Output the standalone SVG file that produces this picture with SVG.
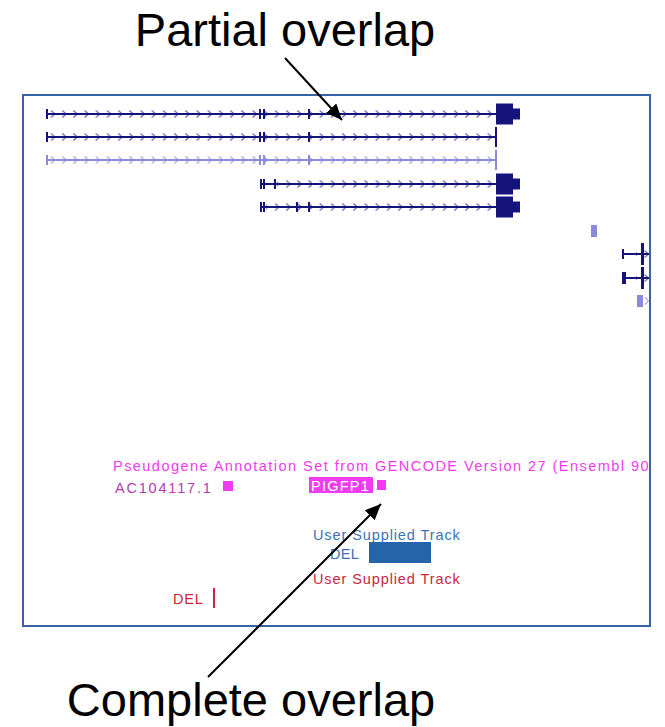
<svg xmlns="http://www.w3.org/2000/svg" width="665" height="727" viewBox="0 0 665 727">
  <style>
    .title { font-family: "Liberation Sans", Arial, sans-serif; font-size: 47px; fill: #000; }
    .lbl { font-family: "Liberation Sans", Arial, sans-serif; font-size: 14.5px; letter-spacing: 1.2px; }
    .dk { stroke: #14147a; fill: #14147a; }
    .lt { stroke: #8a8ad8; fill: #8a8ad8; }
    .ln { stroke-width: 2; fill: none; }
    .tick { stroke-width: 2; fill: none; }
    .blk { stroke: none; }
    .conn { stroke: #000; stroke-width: 2; fill: none; marker-end: url(#head); }
  </style>
  <defs>
    <!-- intron direction chevrons, one tile per 11.2 px -->
    <pattern id="chevDk" patternUnits="userSpaceOnUse" x="47" y="-5" width="11.2" height="10">
      <path d="M4,1.5 L8,5 L4,8.5" fill="none" stroke="#6a6ab8" stroke-width="1.2"/>
    </pattern>
    <pattern id="chevLt" patternUnits="userSpaceOnUse" x="47" y="-5" width="11.2" height="10">
      <path d="M4,1.5 L8,5 L4,8.5" fill="none" stroke="#a8a8e4" stroke-width="1.2"/>
    </pattern>
    <marker id="head" markerUnits="userSpaceOnUse" markerWidth="18" markerHeight="14" refX="16" refY="7" orient="auto">
      <path d="M0,0 L16,7 L0,14 Z" fill="#000"/>
    </marker>
    <clipPath id="frameClip">
      <rect x="23" y="95" width="627" height="531"/>
    </clipPath>
  </defs>

  <!-- browser frame -->
  <rect id="frame" x="23" y="95" width="627" height="531" fill="#fff" stroke="#3563a3" stroke-width="2"/>

  <!-- gene model tracks -->
  <g id="tx1" transform="translate(0,114)">
    <rect x="49" y="-5" width="446" height="10" fill="url(#chevDk)"/>
    <line class="dk ln" x1="47" y1="0" x2="496" y2="0"/>
    <path class="dk tick" d="M47,-5 V5 M260,-5 V5 M264,-5 V5 M309,-5 V5"/>
    <rect class="dk blk" x="496" y="-10.5" width="17" height="21"/>
    <rect class="dk blk" x="512" y="-5.5" width="8" height="11"/>
  </g>
  <g id="tx2" transform="translate(0,137)">
    <rect x="49" y="-5" width="446" height="10" fill="url(#chevDk)"/>
    <line class="dk ln" x1="47" y1="0" x2="496" y2="0"/>
    <path class="dk tick" d="M47,-5 V5 M260,-5 V5 M264,-5 V5 M309,-5 V5 M496,-10 V10"/>
  </g>
  <g id="tx3" transform="translate(0,160)">
    <rect x="49" y="-5" width="446" height="10" fill="url(#chevLt)"/>
    <line class="lt ln" x1="47" y1="0" x2="496" y2="0"/>
    <path class="lt tick" d="M47,-5 V5 M260,-5 V5 M264,-5 V5 M309,-5 V5 M496,-10 V10"/>
  </g>
  <g id="tx4" transform="translate(0,184)">
    <rect x="277" y="-5" width="218" height="10" fill="url(#chevDk)"/>
    <line class="dk ln" x1="261" y1="0" x2="496" y2="0"/>
    <path class="dk tick" d="M261,-5 V5 M264,-5 V5 M275,-5 V5"/>
    <rect class="dk blk" x="496" y="-10.5" width="17" height="21"/>
    <rect class="dk blk" x="512" y="-5.5" width="8" height="11"/>
  </g>
  <g id="tx5" transform="translate(0,207)">
    <rect x="266" y="-5" width="229" height="10" fill="url(#chevDk)"/>
    <line class="dk ln" x1="261" y1="0" x2="496" y2="0"/>
    <path class="dk tick" d="M261,-5 V5 M264,-5 V5 M297,-5 V5 M309,-5 V5"/>
    <rect class="dk blk" x="496" y="-10.5" width="17" height="21"/>
    <rect class="dk blk" x="512" y="-5.5" width="8" height="11"/>
  </g>

  <!-- partial models at the right edge -->
  <g id="edge1">
    <rect class="lt blk" x="591" y="225" width="6" height="12"/>
  </g>
  <g id="edge2" transform="translate(0,254)">
    <rect x="636" y="-5" width="13" height="10" fill="url(#chevDk)"/>
    <line class="dk ln" x1="622" y1="0" x2="649" y2="0"/>
    <path class="dk tick" d="M623,-5 V5"/>
    <rect class="dk blk" x="641" y="-11" width="3" height="22"/>
  </g>
  <g id="edge3" transform="translate(0,278)">
    <rect x="636" y="-5" width="13" height="10" fill="url(#chevDk)"/>
    <line class="dk ln" x1="622" y1="0" x2="649" y2="0"/>
    <rect class="dk blk" x="622" y="-6" width="4" height="12"/>
    <rect class="dk blk" x="641" y="-11" width="3" height="22"/>
  </g>
  <g id="edge4" transform="translate(0,301)">
    <rect class="lt blk" x="637" y="-6" width="6" height="12"/>
    <path d="M645,-3.5 L648.5,0 L645,3.5" fill="none" stroke="#a8a8e4" stroke-width="1.2"/>
  </g>

  <!-- pseudogene annotation track -->
  <g id="pseudoTrack" clip-path="url(#frameClip)">
    <text class="lbl" x="113" y="471" fill="#f03cf0" textLength="543" lengthAdjust="spacing">Pseudogene Annotation Set from GENCODE Version 27 (Ensembl 90)</text>
  </g>
  <g id="AC104117">
    <text class="lbl" x="115" y="493" fill="#b23cb4" textLength="97" lengthAdjust="spacing">AC104117.1</text>
    <rect x="223" y="481" width="10" height="10" fill="#f03cf0"/>
  </g>
  <g id="PIGFP1">
    <rect x="309" y="477" width="64" height="16" fill="#f03cf0"/>
    <text class="lbl" x="311" y="491" fill="#fff" textLength="59" lengthAdjust="spacing">PIGFP1</text>
    <rect x="377" y="480" width="9" height="10" fill="#f03cf0"/>
  </g>

  <!-- user supplied tracks -->
  <g id="userBlue">
    <text class="lbl" x="313" y="540" fill="#3c72b8" textLength="148" lengthAdjust="spacing">User Supplied Track</text>
    <text class="lbl" x="330" y="559" fill="#3c72b8" textLength="30" lengthAdjust="spacing">DEL</text>
    <rect x="369" y="542" width="62" height="21" fill="#2464a8"/>
  </g>
  <g id="userRed">
    <text class="lbl" x="313" y="584" fill="#c8283c" textLength="148" lengthAdjust="spacing">User Supplied Track</text>
    <text class="lbl" x="173" y="604" fill="#c8283c" textLength="31" lengthAdjust="spacing">DEL</text>
    <line x1="214" y1="588" x2="214" y2="608" stroke="#c8283c" stroke-width="2"/>
  </g>

  <!-- callouts -->
  <g id="partialLabel">
    <text class="title" x="285" y="46" text-anchor="middle">Partial overlap</text>
  </g>
  <g id="completeLabel">
    <text class="title" x="251" y="716" text-anchor="middle">Complete overlap</text>
  </g>
  <g id="connectors">
    <line class="conn" x1="285" y1="58" x2="342" y2="120"/>
    <line class="conn" x1="208" y1="677" x2="381" y2="504"/>
  </g>
</svg>
